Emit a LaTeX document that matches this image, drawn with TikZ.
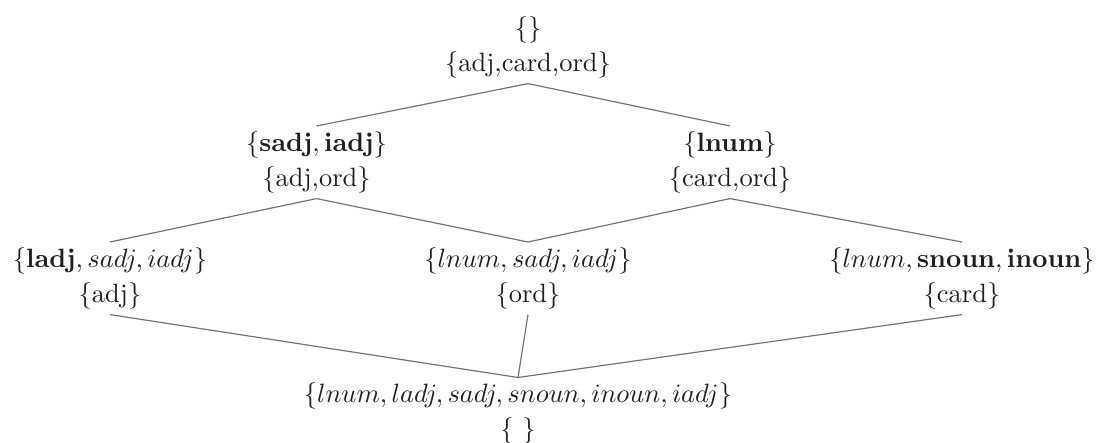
\documentclass[tikz,border=0pt]{standalone}
\begin{document}
\begin{tikzpicture}[x=0.3774pt,y=-0.3774pt,
  concept/.style={anchor=north,align=center,inner xsep=0pt,inner ysep=1.9pt,
    font=\fontsize{10}{13.2}\selectfont,text=black!88},
  link/.style={draw=black!55,line width=0.45pt}]
\useasboundingbox (0,0) rectangle (1102,443);
\node[concept] (top) at (528,11) {\{\}\\\{adj,card,ord\}};
\node[concept] (sl) at (316.5,126) {$\{\mathbf{sadj},\mathbf{iadj}\}$\\\{adj,ord\}};
\node[concept] (ln) at (730,126) {$\{\mathbf{lnum}\}$\\\{card,ord\}};
\node[concept] (la) at (110,242) {$\{\mathbf{ladj},sadj,iadj\}$\\\{adj\}};
\node[concept] (mid) at (528,242) {$\{lnum,sadj,iadj\}$\\\{ord\}};
\node[concept] (rn) at (962,242) {$\{lnum,\mathbf{snoun},\mathbf{inoun}\}$\\\{card\}};
\node[concept] (bot) at (518,377.5) {$\{lnum,ladj,sadj,snoun,inoun,iadj\}$\\\{ \}};
\draw[link] (top.south) -- (sl.north);
\draw[link] (top.south) -- (ln.north);
\draw[link] (sl.south) -- (la.north);
\draw[link] (sl.south) -- (mid.north);
\draw[link] (ln.south) -- (mid.north);
\draw[link] (ln.south) -- (rn.north);
\draw[link] (la.south) -- (bot.north);
\draw[link] (mid.south) -- (bot.north);
\draw[link] (rn.south) -- (bot.north);
\end{tikzpicture}
\end{document}
